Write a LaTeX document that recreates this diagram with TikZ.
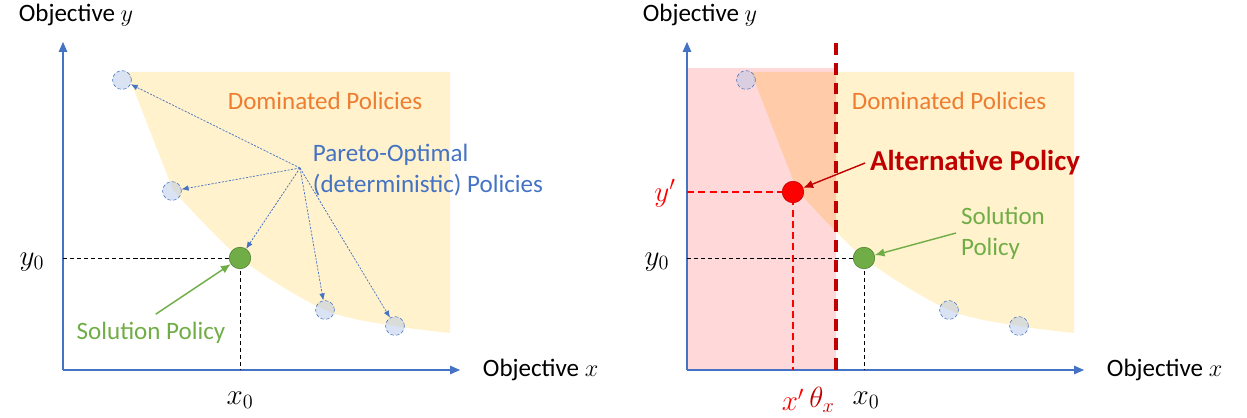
\documentclass[tikz,border=0pt]{standalone}
\usepackage{fontspec}
\setmainfont{Carlito}
\usetikzlibrary{arrows.meta,positioning}
\definecolor{AxisBlue}{HTML}{4472C4}
\definecolor{PtBlue}{HTML}{B4C7E7}
\definecolor{DomYellow}{HTML}{FFF2CC}
\definecolor{DomOrange}{HTML}{ED7D31}
\definecolor{SolGreen}{HTML}{70AD47}
\definecolor{SolDark}{HTML}{507E32}
\definecolor{AltRed}{HTML}{FF0000}
\definecolor{DarkRed}{HTML}{C00000}
\definecolor{Pink}{HTML}{FFD9D9}
\definecolor{Peach}{HTML}{FFCBA8}
% dominated area above the front
\newcommand{\domarea}{(6.4,29.8)--(38.7,29.8)--(38.7,3.7)--plot[smooth,tension=.5]coordinates{(38.7,3.7)(33.2,4.4)(26.2,6.0)(17.7,11.2)(11.0,18.0)}--cycle}

\begin{document}
\begin{tikzpicture}[x=.25cm,y=.25cm,
    font=\fontsize{17.8}{22}\selectfont,
    axis/.style={-{Triangle[length=7pt,width=6pt]},AxisBlue,line width=.8pt},
    policy/.style={circle,draw=AxisBlue,dash pattern=on 2.5pt off 1.5pt,fill=PtBlue,fill opacity=.5,draw opacity=1,minimum size=.47cm,inner sep=0pt},
    solution/.style={circle,draw=SolDark,fill=SolGreen,minimum size=.54cm,inner sep=0pt},
    alt/.style={circle,draw=DarkRed,fill=AltRed,minimum size=.54cm,inner sep=0pt},
    pareto/.style={-{Latex[length=5pt,width=4pt]},AxisBlue,line width=.5pt,dash pattern=on 1.5pt off 1pt},
    guide/.style={black,line width=.6pt,dash pattern=on 3pt off 2pt},
    altguide/.style={AltRed,line width=1.3pt,dash pattern=on 5pt off 3pt},
    threshold/.style={DarkRed,line width=2.3pt,dash pattern=on 8.5pt off 5.5pt},
    mathlbl/.style={font=\fontsize{21}{25}\selectfont},
    callout/.style={-{Latex[length=7pt,width=6pt]},line width=1pt}]
  \useasboundingbox (-6.3,-4.8) rectangle (118.4,37.0);

  % left: pareto front
  \fill[DomYellow] \domarea;
  \draw[axis] (0,0) -- (0,32.8);
  \draw[axis] (0,0) -- (39.7,0);
  \node (ylabL) at (1.3,35.5) {Objective $y$};
  \node[right] (xlabL) at (41.5,0) {Objective $x$};
  \node[DomOrange] (domL) at (26.2,26.9) {Dominated Policies};
  \node[policy] (p1) at (5.9,29.0) {};
  \node[policy] (p2) at (10.9,17.9) {};
  \node[policy] (p3) at (26.2,6.0) {};
  \node[policy] (p4) at (33.2,4.4) {};
  \draw[guide] (0,11.2) -- (17.7,11.2) -- (17.7,0);
  \node[solution] (solL) at (17.7,11.2) {};
  \coordinate (src) at (23.7,20.2);
  \node[AxisBlue,right,align=left] (paretoL) at (24.5,20.0) {Pareto-Optimal\\(deterministic) Policies};
  \foreach \p in {p1,p2,solL,p3,p4}
    \draw[pareto] (src) -- (\p);
  \node[mathlbl] (y0L) at (-3.1,10.8) {$y_0$};
  \node[mathlbl] (x0L) at (17.7,-3.0) {$x_0$};
  \node[SolGreen] (solTxtL) at (8.8,3.7) {Solution Policy};
  \draw[callout,SolGreen,shorten <=4pt] (solTxtL.north) -- (solL);

  % right: constraint on x
  \begin{scope}[xshift=15.6cm]
    \fill[DomYellow] \domarea;
    \fill[Pink] (0,0) rectangle (14.9,30.2);
    \begin{scope}
      \clip (0,0) rectangle (14.9,30.2);
      \fill[Peach] \domarea;
    \end{scope}
    \draw[axis] (0,0) -- (0,32.8);
    \draw[axis] (0,0) -- (39.7,0);
    \node (ylabR) at (1.3,35.5) {Objective $y$};
    \node[right] (xlabR) at (41.5,0) {Objective $x$};
    \node[DomOrange] (domR) at (26.2,26.9) {Dominated Policies};
    \node[policy] (q1) at (5.9,29.0) {};
    \node[policy] (q3) at (26.2,6.0) {};
    \node[policy] (q4) at (33.2,4.4) {};
    \draw[guide] (0,11.2) -- (17.7,11.2) -- (17.7,0);
    \draw[altguide] (0,17.8) -- (10.6,17.8) -- (10.6,0);
    \draw[threshold] (14.9,0) -- (14.9,32.8);
    \node[solution] (solR) at (17.7,11.2) {};
    \node[alt] (alt) at (10.6,17.8) {};
    \node[mathlbl] (y0R) at (-3.0,10.8) {$y_0$};
    \node[mathlbl,AltRed] (ypR) at (-2.2,17.7) {$y'$};
    \node[mathlbl,AltRed] (xpR) at (10.6,-3.0) {$x'$};
    \node[mathlbl,DarkRed] (thR) at (13.5,-3.0) {$\theta_x$};
    \node[mathlbl] (x0R) at (17.9,-3.0) {$x_0$};
    \node[DarkRed,font=\fontsize{20.5}{24}\selectfont\bfseries] (altTxt) at (28.8,20.7) {Alternative Policy};
    \draw[callout,DarkRed] (altTxt.west) -- (alt);
    \node[SolGreen,align=left] (solTxtR) at (31.6,13.7) {Solution\\Policy};
    \draw[callout,SolGreen] (solTxtR.west) -- (solR);
  \end{scope}
\end{tikzpicture}
\end{document}
